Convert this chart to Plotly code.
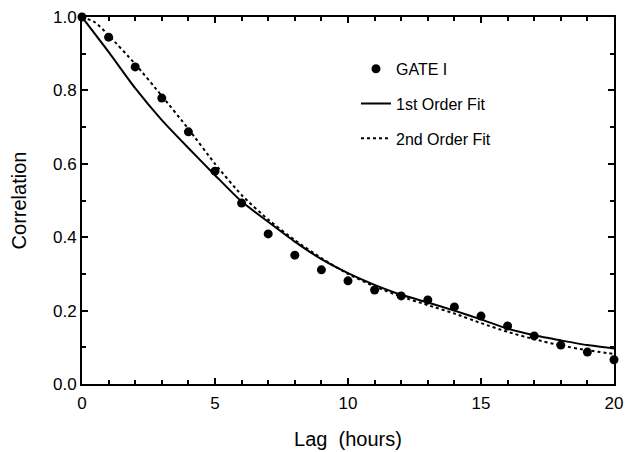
import plotly.graph_objects as go

# Observed correlations (GATE I)
lag_obs = [0, 1, 2, 3, 4, 5, 6, 7, 8, 9, 10, 11, 12, 13, 14, 15, 16, 17, 18, 19, 20]
corr_obs = [1.0, 0.945, 0.864, 0.779, 0.687, 0.580, 0.493, 0.409, 0.351, 0.311,
            0.281, 0.256, 0.240, 0.229, 0.210, 0.185, 0.158, 0.131, 0.106, 0.087, 0.066]

# 1st order fit
lag_fit1 = [0, 1, 2, 3, 4, 5, 6, 7, 8, 9, 10, 11, 12, 13, 14, 15, 16, 17, 18, 19, 20]
corr_fit1 = [1.0, 0.905, 0.806, 0.719, 0.643, 0.569, 0.497, 0.442, 0.388, 0.340,
             0.302, 0.270, 0.243, 0.222, 0.200, 0.176, 0.151, 0.133, 0.119, 0.106, 0.097]

# 2nd order fit
lag_fit2 = [0, 0.5, 1, 2, 3, 4, 5, 6, 7, 8, 9, 10, 11, 12, 13, 14, 15, 16, 17, 18, 19, 20]
corr_fit2 = [1.0, 0.985, 0.950, 0.872, 0.785, 0.695, 0.600, 0.515, 0.448, 0.392, 0.343,
             0.300, 0.266, 0.238, 0.215, 0.192, 0.166, 0.142, 0.122, 0.105, 0.092, 0.082]

x_ticks = [0, 5, 10, 15, 20]
y_ticks = [0.0, 0.2, 0.4, 0.6, 0.8, 1.0]

FONT = "Liberation Sans, Arial, sans-serif"

fig = go.Figure()
fig.add_trace(go.Scatter(x=lag_obs, y=corr_obs, mode="markers", name="GATE I",
                         legendgroup="a",
                         marker=dict(color="black", size=9), cliponaxis=False))
fig.add_trace(go.Scatter(x=lag_fit1, y=corr_fit1, mode="lines", name="1st Order Fit",
                         legendgroup="b",
                         line=dict(color="black", width=2, shape="spline", smoothing=0.6)))
fig.add_trace(go.Scatter(x=lag_fit2, y=corr_fit2, mode="lines", name="2nd Order Fit",
                         legendgroup="c",
                         line=dict(color="black", width=2, dash="dot", shape="spline", smoothing=0.6)))

axis_common = dict(
    showline=True, linecolor="black", linewidth=2, mirror="ticks",
    ticks="inside", ticklen=6, tickwidth=1.5, tickcolor="black",
    showgrid=False, zeroline=False, automargin=False,
    tickfont=dict(family=FONT, size=17, color="black"),
)

fig.update_xaxes(range=[0, 20], tickvals=x_ticks, ticktext=[str(v) for v in x_ticks],
                 ticklabelstandoff=3,
                 minor=dict(dtick=1, ticks="inside", ticklen=4, tickcolor="black", tickwidth=1.5),
                 title=dict(text="Lag\u00a0\u00a0(hours)", font=dict(family=FONT, size=20, color="black"),
                            standoff=20),
                 **axis_common)
fig.update_yaxes(range=[0, 1.0], tickvals=y_ticks, ticktext=[f"{v:.1f}" for v in y_ticks],
                 minor=dict(dtick=0.1, ticks="inside", ticklen=4, tickcolor="black", tickwidth=1.5),
                 title=dict(text="Correlation", font=dict(family=FONT, size=20, color="black"),
                            standoff=21),
                 **axis_common)

fig.update_layout(
    width=633, height=452,
    margin=dict(l=82, r=19, t=17, b=68),
    plot_bgcolor="white", paper_bgcolor="white",
    font=dict(family=FONT, color="black"),
    legend=dict(x=0.515, y=0.905, xanchor="left", yanchor="top",
                font=dict(family=FONT, size=16, color="black"),
                bgcolor="rgba(0,0,0,0)", tracegroupgap=11, itemwidth=30),
)

fig.write_html("out.html")
